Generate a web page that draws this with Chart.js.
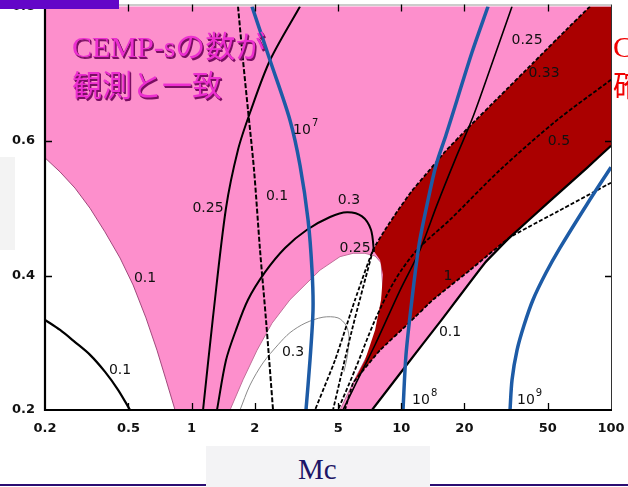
<!DOCTYPE html>
<html>
<head>
<meta charset="utf-8">
<script src="https://cdn.jsdelivr.net/npm/chart.js@4/dist/chart.umd.min.js"></script>
<style>
html, body { margin: 0; padding: 0; background: #fff; }
#slide { position: relative; width: 628px; height: 487px; overflow: hidden; background: #fff; }
#plot { position: absolute; left: 0; top: -40px; }
.bar { position: absolute; left: 0; top: 0; width: 119px; height: 9px; background: #6306c8; }
.side { position: absolute; left: 0; top: 157px; width: 15px; height: 93px; background: #f3f3f3; }
.titlebox { position: absolute; left: 206px; top: 446px; width: 224px; height: 41px; background: #f3f3f5; }
.rule { position: absolute; top: 484px; height: 2px; background: #2b0d72; }
.xtitle { position: absolute; left: 298px; top: 455px; font: 29px/29px "Liberation Serif", serif; color: #1d1566; }
.note { position: absolute; left: 72px; font-family: "Liberation Serif", "Noto Sans CJK JP", serif; font-size: 30px; line-height: 30px;
        color: #ec2fd0; text-shadow: 1px 1px 0 #7a0f62, 1.5px 1.5px 0 #7a0f62; white-space: nowrap; }
.red { position: absolute; left: 613px; font-family: "Liberation Serif", "Noto Sans CJK JP", serif; font-size: 30px; line-height: 30px;
       color: #f00000; white-space: nowrap; }
</style>
</head>
<body>
<div id="slide">
  <canvas id="plot" width="636" height="527"></canvas>
  <div class="side"></div>
  <div class="bar"></div>
  <div class="rule" style="left:0;width:206px"></div>
  <div class="rule" style="left:430px;width:198px"></div>
  <div class="titlebox"></div>
  <div class="xtitle">Mc</div>
  <div class="note" style="top:32px">CEMP-sの数が</div>
  <div class="note" style="top:71px">観測と一致</div>
  <div class="red" style="top:32px">C</div>
  <div class="red" style="top:71px">確</div>
</div>
<script>
// Axis ticks
const massTicks = [0.2, 0.5, 1, 2, 5, 10, 20, 50, 100];
const ratioTicks = [0.2, 0.4, 0.6, 0.8];

// White (excluded) regions
const lowMassVoidMc = [0.2, 0.236, 0.278, 0.328, 0.386, 0.456, 0.526, 0.606, 0.684, 0.755, 0.834, 0.2];
const lowMassVoidY  = [0.575, 0.554, 0.530, 0.500, 0.465, 0.426, 0.386, 0.337, 0.289, 0.245, 0.2, 0.2];

const midVoidMc = [1.525, 1.759, 2.052, 2.418, 2.946, 3.474, 4.098, 5.10, 5.89, 6.71, 7.50, 8.01, 8.18, 7.92, 7.09, 6.15, 5.51, 5.10];
const midVoidY  = [0.2, 0.245, 0.289, 0.329, 0.364, 0.386, 0.408, 0.428, 0.433, 0.433, 0.429, 0.419, 0.378, 0.334, 0.289, 0.252, 0.222, 0.2];

const highMassVoidMc = [7.25, 10.42, 15.30, 25.08, 33.0, 51.2, 76.86, 100, 100];
const highMassVoidY  = [0.2, 0.264, 0.331, 0.419, 0.457, 0.511, 0.560, 0.593, 0.2];

// Dark red band: upper edge, right side, lower edge, left edge
const bandMc = [7.33, 8.37, 9.65, 11.25, 13.41, 16.16, 20.58, 29.58, 42.48, 61.0, 79.4, 100, 100, 76.86, 51.2, 33.0, 21.26, 14.17, 11.01, 7.92, 5.89, 6.71, 7.50, 8.01, 8.18, 7.92, 7.33];
const bandY  = [0.438, 0.468, 0.497, 0.526, 0.554, 0.584, 0.618, 0.667, 0.716, 0.765, 0.8, 0.8, 0.593, 0.560, 0.511, 0.457, 0.408, 0.364, 0.331, 0.289, 0.240, 0.274, 0.319, 0.364, 0.401, 0.423, 0.438];

// Contours
const thinArcMc = [1.702, 1.899, 2.19, 2.584, 2.946, 3.474, 4.234, 4.99, 5.45, 5.63, 5.54, 5.33];
const thinArcY  = [0.2, 0.237, 0.270, 0.297, 0.315, 0.329, 0.338, 0.337, 0.326, 0.309, 0.282, 0.257];

const low01Mc = [0.2, 0.236, 0.278, 0.328, 0.386, 0.446, 0.509];
const low01Y  = [0.334, 0.319, 0.301, 0.282, 0.257, 0.230, 0.2];

const left025Mc = [1.134, 1.265, 1.459, 1.665, 1.899, 2.366, 3.288];
const left025Y  = [0.2, 0.338, 0.500, 0.587, 0.642, 0.720, 0.8];

const dashed01Mc = [1.665, 1.759, 1.858, 1.985, 2.12, 2.264, 2.446];
const dashed01Y  = [0.8, 0.72, 0.646, 0.557, 0.438, 0.334, 0.2];

const arc03Mc = [1.322, 1.459, 1.628, 1.858, 2.24, 2.79, 3.552, 4.574, 5.51, 6.50, 7.17, 7.41];
const arc03Y  = [0.2, 0.274, 0.319, 0.364, 0.405, 0.441, 0.468, 0.487, 0.494, 0.488, 0.468, 0.435];

const right025Mc = [33.73, 27.98, 21.98, 18.04, 14.80, 12.28, 9.86, 7.50, 6.02, 5.27];
const right025Y  = [0.8, 0.728, 0.636, 0.572, 0.505, 0.438, 0.378, 0.297, 0.237, 0.2];

const half05Mc = [100, 55.28, 29.58, 17.08, 11.89, 9.33, 7.50, 6.02, 4.99];
const half05Y  = [0.691, 0.631, 0.557, 0.483, 0.438, 0.393, 0.334, 0.260, 0.2];

const third033Mc = [79.4, 61.0, 42.48, 29.58, 20.58, 16.16, 13.41, 11.25, 9.65, 8.37, 7.33, 6.02, 4.83, 3.878];
const third033Y  = [0.8, 0.765, 0.716, 0.667, 0.618, 0.584, 0.554, 0.526, 0.497, 0.468, 0.438, 0.364, 0.274, 0.2];

const fanMc = [7.33, 5.82, 4.724];
const fanY  = [0.438, 0.319, 0.2];

const unityMc = [5.39, 5.89, 7.92, 11.01, 14.17, 21.26, 33.0, 57.1, 100];
const unityY  = [0.2, 0.240, 0.289, 0.331, 0.364, 0.408, 0.457, 0.497, 0.538];

const right01Mc = [7.25, 10.42, 15.30, 25.08, 33.0, 51.2, 76.86, 100];
const right01Y  = [0.2, 0.264, 0.331, 0.419, 0.457, 0.511, 0.560, 0.593];

// Age curves (blue)
const age1e7Mc = [1.941, 2.366, 2.946, 3.288, 3.592, 3.752, 3.794, 3.67, 3.512];
const age1e7Y  = [0.8, 0.72, 0.631, 0.564, 0.483, 0.408, 0.349, 0.274, 0.2];
const age1e8Mc = [25.92, 21.74, 18.44, 16.34, 14.64, 13.26, 12.14, 11.24, 10.53, 10.19];
const age1e8Y  = [0.8, 0.732, 0.661, 0.609, 0.564, 0.505, 0.445, 0.364, 0.282, 0.2];
const age1e9Mc = [33.0, 33.74, 35.64, 38.48, 42.48, 48.98, 57.1, 76.86, 100];
const age1e9Y  = [0.2, 0.245, 0.289, 0.326, 0.364, 0.404, 0.441, 0.506, 0.561];

// Contour labels
const tagText = ['0.1', '0.1', '0.25', '0.1', '10', '0.3', '0.25', '0.3', '0.25', '0.33', '0.5', '1', '0.1', '10', '10'];
const tagSup  = ['', '', '', '', '7', '', '', '', '', '', '', '', '', '8', '9'];
const tagMc   = [0.60, 0.456, 1.198, 2.555, 3.362, 5.63, 6.02, 3.046, 39.8, 47.9, 56.5, 16.7, 17.08, 12.42, 39.3];
const tagY    = [0.396, 0.259, 0.500, 0.518, 0.616, 0.511, 0.441, 0.286, 0.750, 0.701, 0.599, 0.398, 0.316, 0.215, 0.215];

const PINK = '#fd8fcc';
const DARK_RED = '#aa0000';
const BLUE = '#1d5ba6';

const zip = (xs, ys) => xs.map((x, i) => ({ x: x, y: ys[i] }));

function region(xs, ys, color, edge, order) {
  return {
    data: zip(xs, ys), fill: 'shape', backgroundColor: color,
    borderColor: edge || 'rgba(0,0,0,0)', borderWidth: edge ? 1 : 0,
    tension: 0, pointRadius: 0, order: order
  };
}
function curve(xs, ys, color, width, dash, order, tension) {
  return {
    data: zip(xs, ys), fill: false, borderColor: color, borderWidth: width,
    borderDash: dash || [], tension: tension === undefined ? 0.3 : tension,
    pointRadius: 0, order: order, borderCapStyle: 'butt'
  };
}

const datasets = [
  region(lowMassVoidMc, lowMassVoidY, '#ffffff', '#a0497c', 60),
  region(midVoidMc, midVoidY, '#ffffff', '#c0709a', 59),
  region(highMassVoidMc, highMassVoidY, '#ffffff', null, 58),
  region(bandMc, bandY, DARK_RED, null, 50),
  curve(thinArcMc, thinArcY, '#8a8a8a', 1, null, 40),
  curve(low01Mc, low01Y, '#000', 2.2, null, 30),
  curve(left025Mc, left025Y, '#000', 2, null, 30),
  curve(dashed01Mc, dashed01Y, '#000', 2, [5, 2], 30),
  curve(arc03Mc, arc03Y, '#000', 2, null, 30),
  curve(right025Mc, right025Y, '#000', 1.6, null, 30),
  curve(half05Mc, half05Y, '#000', 1.8, [4, 2], 30),
  curve(third033Mc, third033Y, '#000', 1.8, [4, 2], 30, 0.15),
  curve(fanMc, fanY, '#000', 1.8, [4, 2], 30),
  curve(unityMc, unityY, '#000', 1.8, [4, 2], 30, 0.08),
  curve(right01Mc, right01Y, '#000', 2.2, null, 30, 0.08),
  curve(age1e7Mc, age1e7Y, BLUE, 3.5, null, 10),
  curve(age1e8Mc, age1e8Y, BLUE, 3.5, null, 10),
  curve(age1e9Mc, age1e9Y, BLUE, 3.5, null, 10)
];

const plotDecor = {
  id: 'plotDecor',
  beforeDatasetsDraw(chart) {
    const { ctx, chartArea: a } = chart;
    ctx.save();
    ctx.fillStyle = PINK;
    ctx.fillRect(a.left, a.top, a.right - a.left, a.bottom - a.top);
    ctx.restore();
  },
  afterDatasetsDraw(chart) {
    const { ctx, chartArea: a } = chart;
    const xs = chart.scales.x, ys = chart.scales.y;
    ctx.save();
    // contour labels
    ctx.fillStyle = '#111';
    ctx.textBaseline = 'middle';
    tagText.forEach((t, i) => {
      const px = xs.getPixelForValue(tagMc[i]);
      const py = ys.getPixelForValue(tagY[i]);
      ctx.font = '14px "DejaVu Sans", sans-serif';
      ctx.textAlign = 'center';
      ctx.fillText(t, px, py);
      if (tagSup[i]) {
        const w = ctx.measureText(t).width;
        ctx.font = '10px "DejaVu Sans", sans-serif';
        ctx.textAlign = 'left';
        ctx.fillText(tagSup[i], px + w / 2 + 1, py - 7);
      }
    });
    // frame
    ctx.strokeStyle = '#999';
    ctx.lineWidth = 1;
    ctx.beginPath();
    ctx.moveTo(a.left, a.top - 1.5); ctx.lineTo(a.right, a.top - 1.5);
    ctx.stroke();
    ctx.strokeStyle = '#333';
    ctx.beginPath();
    ctx.moveTo(a.right + 0.5, a.top - 2); ctx.lineTo(a.right + 0.5, a.bottom);
    ctx.stroke();
    ctx.strokeStyle = '#000';
    ctx.lineWidth = 2.2;
    ctx.beginPath();
    ctx.moveTo(a.left, a.top - 2); ctx.lineTo(a.left, a.bottom);
    ctx.lineTo(a.right + 1, a.bottom);
    ctx.stroke();
    // inward ticks
    ctx.lineWidth = 1.3;
    massTicks.slice(1, -1).forEach(v => {
      const px = Math.round(xs.getPixelForValue(v)) + 0.5;
      ctx.beginPath();
      ctx.moveTo(px, a.bottom); ctx.lineTo(px, a.bottom - 7);
      ctx.moveTo(px, a.top - 2); ctx.lineTo(px, a.top + 5);
      ctx.stroke();
    });
    ratioTicks.slice(1, -1).forEach(v => {
      const py = Math.round(ys.getPixelForValue(v)) + 0.5;
      ctx.beginPath();
      ctx.moveTo(a.left, py); ctx.lineTo(a.left + 7, py);
      ctx.moveTo(a.right, py); ctx.lineTo(a.right - 6, py);
      ctx.stroke();
    });
    ctx.restore();
  }
};

const tickFont = { family: 'DejaVu Sans', size: 13, weight: 'bold' };

new Chart(document.getElementById('plot'), {
  type: 'line',
  data: { datasets: datasets },
  options: {
    responsive: false,
    animation: false,
    devicePixelRatio: 1,
    layout: { padding: { top: 46.5, right: 25, left: 0, bottom: 0 } },
    plugins: { legend: { display: false }, tooltip: { enabled: false } },
    scales: {
      x: {
        type: 'logarithmic', min: 0.2, max: 100,
        grid: { display: false, drawTicks: false },
        border: { display: false },
        afterBuildTicks: s => { s.ticks = massTicks.map(v => ({ value: v })); },
        afterFit: s => { s.height = 77; },
        ticks: {
          autoSkip: false, maxRotation: 0, minRotation: 0, padding: 11,
          color: '#111', font: tickFont,
          callback: v => String(v)
        }
      },
      y: {
        type: 'linear', min: 0.2, max: 0.8,
        grid: { display: false, drawTicks: false },
        border: { display: false },
        afterBuildTicks: s => { s.ticks = ratioTicks.map(v => ({ value: v })); },
        afterFit: s => { s.width = 45; },
        ticks: {
          padding: 10, color: '#111', font: tickFont,
          callback: v => Number(v).toFixed(1)
        }
      }
    }
  },
  plugins: [plotDecor]
});
</script>
</body>
</html>
